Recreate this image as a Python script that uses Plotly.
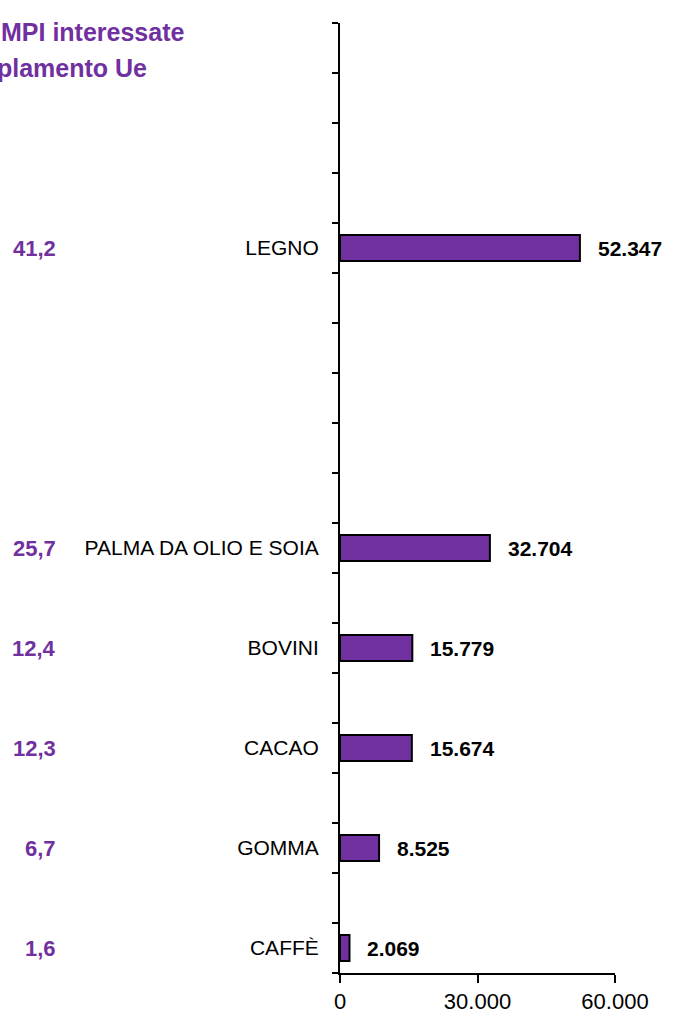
import plotly.graph_objects as go

categories = ["LEGNO", "PALMA DA OLIO E SOIA", "BOVINI", "CACAO", "GOMMA", "CAFFÈ"]
values = [52347, 32704, 15779, 15674, 8525, 2069]
percent = ["41,2", "25,7", "12,4", "12,3", "6,7", "1,6"]
slot = [4, 10, 12, 14, 16, 18]
n_slots = 19
x_ticks = [0, 30000, 60000]
title_lines = ["MPI interessate", "plamento Ue"]

PURPLE = "#7030A0"
FONT = "Liberation Sans, Arial, sans-serif"

fig = go.Figure()
fig.add_trace(go.Bar(
    x=values, y=slot, orientation="h", width=0.52,
    marker=dict(color=PURPLE, line=dict(color="black", width=2)),
    hoverinfo="skip",
))

for v, s in zip(values, slot):
    fig.add_annotation(x=v, y=s, xref="x", yref="y", text="<b>%s</b>" % f"{v:,}".replace(",", "."),
                       showarrow=False, xanchor="left", xshift=16,
                       font=dict(family=FONT, size=21, color="black"))
for p, s in zip(percent, slot):
    fig.add_annotation(x=-1.0255, y=s, xref="paper", yref="y", text="<b>%s</b>" % p,
                       showarrow=False, xanchor="right",
                       font=dict(family=FONT, size=22, color=PURPLE))

fig.add_annotation(x=-0.556, y=0.9905, xref="paper", yref="paper", yanchor="middle",
                   text="<b>%s</b>" % title_lines[0], showarrow=False, xanchor="right",
                   font=dict(family=FONT, size=25, color=PURPLE))
fig.add_annotation(x=-0.694, y=0.9526, xref="paper", yref="paper", yanchor="middle",
                   text="<b>%s</b>" % title_lines[1], showarrow=False, xanchor="right",
                   font=dict(family=FONT, size=25, color=PURPLE))

fig.update_layout(
    width=673, height=1022,
    margin=dict(l=340, r=58, t=23, b=49),
    paper_bgcolor="white", plot_bgcolor="white",
    separators=",.",
    showlegend=False,
    font=dict(family=FONT, color="black"),
    xaxis=dict(range=[0, 60000], tickvals=x_ticks, tickformat=",", showgrid=False, zeroline=False,
               automargin=False,
               showline=True, linecolor="black", linewidth=2,
               ticks="outside", ticklen=8, tickwidth=2, tickcolor="black",
               tickfont=dict(family=FONT, size=22, color="black")),
    yaxis=dict(range=[n_slots - 0.5, -0.5], tickvals=slot, ticktext=categories,
               automargin=False,
               showgrid=False, zeroline=False, showline=True, linecolor="black", linewidth=2,
               ticks="", ticklabelstandoff=15,
               tickfont=dict(family=FONT, size=21, color="black"),
               minor=dict(tickmode="linear", tick0=-0.5, dtick=1, ticks="outside",
                          ticklen=6, tickwidth=2, tickcolor="black", showgrid=False)),
)

fig.write_html("out.html", config={"displayModeBar": False},
               post_script="document.body.style.margin='0';document.body.style.overflow='hidden';")
